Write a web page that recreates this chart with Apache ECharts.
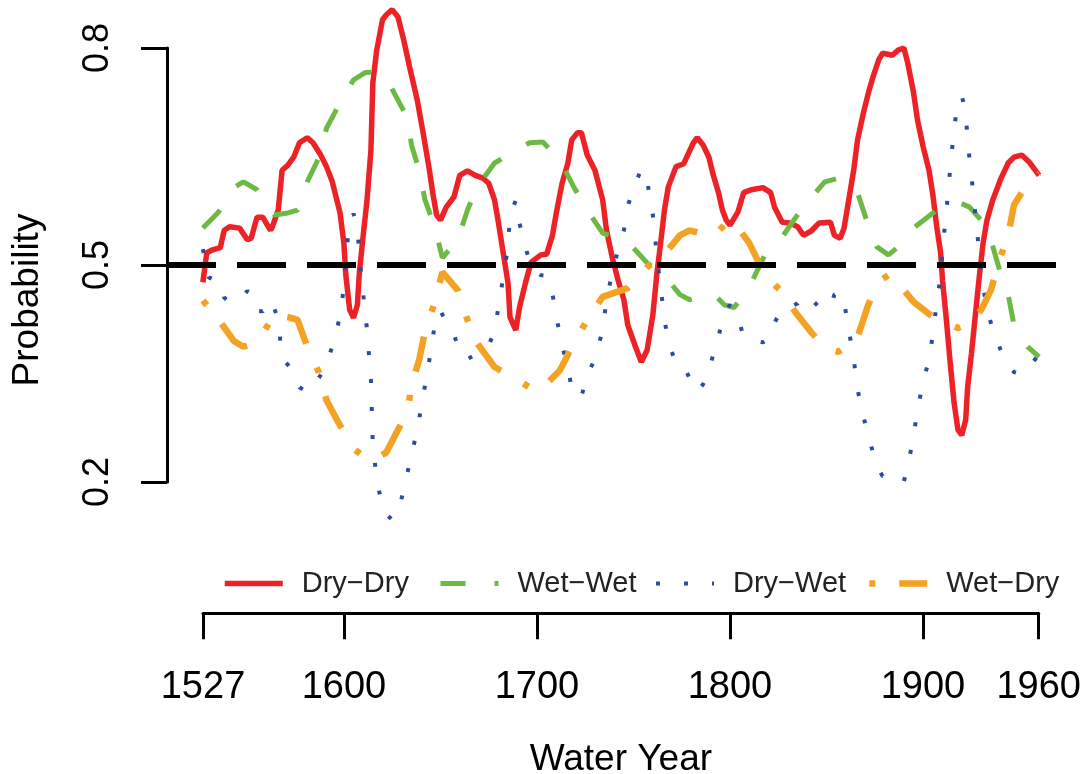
<!DOCTYPE html>
<html><head><meta charset="utf-8">
<script src="https://cdn.jsdelivr.net/npm/echarts@6.0.0/dist/echarts.min.js"></script>
<style>html,body{margin:0;padding:0;background:#fff}#c{width:1084px;height:774px}</style>
</head><body><div id="c"></div>
<script>
const seriesNames = ['Dry\u2212Dry', 'Wet\u2212Wet', 'Dry\u2212Wet', 'Wet\u2212Dry'];
const xTicks = [1527, 1600, 1700, 1800, 1900, 1960];
const yTicks = [0.2, 0.5, 0.8];
const refLevel = 0.5;

const dryDry = [[1527,0.476],[1529,0.517],[1532,0.521],[1536,0.524],[1538,0.548],[1541,0.553],[1546,0.551],[1550,0.535],[1552,0.537],[1555,0.566],
[1558,0.566],[1562,0.548],[1563,0.553],[1566,0.576],[1568,0.631],[1571,0.638],[1574,0.649],[1577,0.669],[1581,0.676],[1584,0.669],
[1588,0.652],[1591,0.636],[1594,0.615],[1598,0.572],[1600,0.530],[1601,0.486],[1603,0.438],[1605,0.427],[1607,0.445],[1608,0.489],
[1610,0.541],[1612,0.590],[1614,0.659],[1615,0.752],[1617,0.797],[1620,0.839],[1622,0.846],[1625,0.853],[1628,0.843],[1631,0.811],
[1634,0.774],[1638,0.728],[1641,0.683],[1644,0.636],[1646,0.600],[1648,0.569],[1650,0.562],[1653,0.580],[1657,0.594],[1660,0.624],
[1664,0.630],[1668,0.624],[1672,0.620],[1675,0.613],[1678,0.590],[1680,0.559],[1682,0.525],[1685,0.475],[1686,0.428],[1689,0.410],
[1691,0.442],[1694,0.475],[1697,0.504],[1702,0.514],[1705,0.515],[1708,0.541],[1710,0.572],[1713,0.613],[1716,0.641],[1718,0.673],
[1721,0.683],[1723,0.683],[1726,0.652],[1730,0.631],[1734,0.590],[1736,0.548],[1739,0.510],[1742,0.479],[1745,0.452],[1747,0.417],
[1751,0.387],[1754,0.366],[1757,0.382],[1760,0.431],[1762,0.486],[1764,0.530],[1766,0.576],[1768,0.608],[1772,0.636],[1776,0.640],
[1778,0.652],[1781,0.669],[1783,0.676],[1786,0.666],[1789,0.649],[1791,0.627],[1794,0.600],[1796,0.576],[1798,0.562],[1800,0.555],
[1804,0.573],[1807,0.600],[1811,0.604],[1817,0.607],[1821,0.600],[1823,0.580],[1827,0.559],[1831,0.558],[1835,0.553],[1838,0.541],
[1842,0.547],[1846,0.558],[1852,0.559],[1854,0.541],[1857,0.537],[1859,0.551],[1861,0.583],[1864,0.631],[1866,0.673],[1869,0.710],
[1872,0.742],[1874,0.760],[1877,0.784],[1879,0.793],[1884,0.790],[1887,0.797],[1890,0.800],[1892,0.779],[1895,0.738],[1897,0.701],
[1900,0.663],[1903,0.631],[1905,0.597],[1907,0.553],[1909,0.517],[1910,0.479],[1912,0.424],[1914,0.364],[1916,0.309],[1918,0.272],
[1920,0.265],[1922,0.286],[1923,0.331],[1925,0.378],[1927,0.431],[1929,0.483],[1931,0.530],[1933,0.562],[1936,0.590],[1940,0.618],
[1944,0.641],[1947,0.649],[1951,0.652],[1955,0.642],[1960,0.624]];

const wetWet = [[1527,0.551],[1535,0.573],[1543,0.607],[1548,0.615],[1555,0.604],[1564,0.569],[1571,0.572],[1576,0.576],[1581,0.615],[1587,0.648],
[1591,0.689],[1597,0.719],[1605,0.756],[1611,0.766],[1617,0.767],[1622,0.759],[1626,0.738],[1633,0.703],[1635,0.666],[1639,0.631],
[1642,0.590],[1647,0.553],[1651,0.510],[1659,0.535],[1664,0.576],[1669,0.608],[1678,0.641],[1690,0.659],[1696,0.669],[1703,0.670],
[1712,0.645],[1719,0.608],[1726,0.576],[1734,0.544],[1747,0.532],[1757,0.503],[1767,0.482],[1774,0.459],[1779,0.452],[1791,0.461],
[1797,0.445],[1802,0.441],[1810,0.470],[1818,0.514],[1826,0.535],[1834,0.566],[1842,0.593],[1849,0.615],[1856,0.620],[1866,0.600],
[1871,0.559],[1876,0.525],[1882,0.514],[1887,0.525],[1895,0.551],[1907,0.576],[1918,0.587],[1924,0.580],[1930,0.562],[1935,0.535],
[1940,0.489],[1944,0.459],[1947,0.417],[1954,0.387],[1960,0.373]];

const dryWet = [[1527,0.522],[1530,0.483],[1536,0.476],[1538,0.455],[1541,0.448],[1546,0.452],[1550,0.464],[1553,0.457],[1555,0.436],[1558,0.436],
[1562,0.452],[1564,0.440],[1566,0.424],[1568,0.371],[1571,0.362],[1574,0.352],[1577,0.331],[1581,0.324],[1584,0.331],[1588,0.348],
[1591,0.364],[1594,0.387],[1598,0.429],[1600,0.470],[1601,0.512],[1603,0.558],[1605,0.571],[1607,0.554],[1608,0.513],[1610,0.460],
[1612,0.410],[1614,0.341],[1615,0.250],[1617,0.205],[1620,0.163],[1622,0.155],[1625,0.148],[1628,0.158],[1631,0.189],[1634,0.226],
[1638,0.272],[1641,0.318],[1644,0.364],[1646,0.400],[1648,0.430],[1650,0.437],[1653,0.420],[1657,0.405],[1660,0.377],[1664,0.370],
[1668,0.376],[1672,0.381],[1675,0.388],[1678,0.410],[1680,0.441],[1682,0.475],[1685,0.525],[1686,0.570],[1689,0.589],[1691,0.557],
[1694,0.525],[1697,0.497],[1702,0.486],[1705,0.485],[1708,0.460],[1710,0.429],[1713,0.388],[1716,0.360],[1718,0.328],[1721,0.318],
[1723,0.318],[1726,0.348],[1730,0.370],[1734,0.410],[1736,0.452],[1739,0.490],[1742,0.521],[1745,0.548],[1747,0.582],[1751,0.612],
[1754,0.633],[1757,0.617],[1760,0.569],[1762,0.515],[1764,0.470],[1766,0.425],[1768,0.393],[1772,0.364],[1776,0.360],[1778,0.349],
[1781,0.332],[1783,0.325],[1786,0.335],[1789,0.352],[1791,0.374],[1794,0.401],[1796,0.424],[1798,0.438],[1800,0.445],[1804,0.428],
[1807,0.401],[1811,0.396],[1817,0.393],[1821,0.400],[1823,0.420],[1827,0.441],[1831,0.442],[1835,0.447],[1838,0.459],[1842,0.453],
[1846,0.442],[1852,0.441],[1854,0.459],[1857,0.463],[1859,0.449],[1861,0.418],[1864,0.370],[1866,0.328],[1869,0.291],[1872,0.259],
[1874,0.241],[1877,0.217],[1879,0.208],[1884,0.211],[1887,0.204],[1890,0.201],[1892,0.222],[1895,0.263],[1897,0.300],[1900,0.338],
[1903,0.370],[1905,0.404],[1907,0.448],[1909,0.484],[1910,0.522],[1912,0.575],[1914,0.634],[1916,0.689],[1918,0.726],[1920,0.733],
[1922,0.713],[1923,0.670],[1925,0.623],[1927,0.570],[1929,0.518],[1931,0.471],[1933,0.439],[1936,0.411],[1940,0.383],[1944,0.360],
[1947,0.352],[1951,0.349],[1955,0.359],[1960,0.377]];

const wetDry = [[1527,0.451],[1535,0.425],[1543,0.395],[1548,0.387],[1555,0.393],[1564,0.431],[1571,0.428],[1576,0.424],[1581,0.387],[1587,0.352],
[1591,0.313],[1597,0.283],[1605,0.246],[1611,0.234],[1617,0.233],[1622,0.241],[1626,0.262],[1633,0.297],[1635,0.334],[1639,0.369],
[1642,0.408],[1647,0.448],[1651,0.490],[1659,0.465],[1664,0.424],[1669,0.392],[1678,0.359],[1690,0.341],[1696,0.331],[1703,0.330],
[1712,0.355],[1719,0.392],[1726,0.424],[1734,0.456],[1747,0.468],[1757,0.497],[1767,0.518],[1774,0.541],[1779,0.548],[1791,0.539],
[1797,0.555],[1802,0.559],[1810,0.530],[1818,0.486],[1826,0.465],[1834,0.434],[1842,0.407],[1849,0.385],[1856,0.380],[1866,0.400],
[1871,0.441],[1876,0.475],[1882,0.486],[1887,0.475],[1895,0.449],[1907,0.424],[1918,0.413],[1924,0.420],[1930,0.438],[1935,0.465],
[1940,0.511],[1944,0.541],[1947,0.583],[1954,0.613],[1960,0.627]];

const FONT = '"Liberation Sans", Arial, Helvetica, sans-serif';
const colors = ['#EC2227', '#6CBA45', '#2C4C9E', '#F4A224'];
const lineWidths = [5.5, 5, 4, 6.5];
const dashes = ['solid', [25, 29], [4, 24], [6, 24, 36, 26]];
const legendLefts = [222, 438, 654, 866];

const chart = echarts.init(document.getElementById('c'), null, {renderer: 'canvas'});
const option = {
  animation: false,
  backgroundColor: '#ffffff',
  textStyle: {fontFamily: FONT},
  grid: [
    {left: 167, right: 9, top: 48, height: 434},
    {left: 203, right: 45, top: 613, height: 1}
  ],
  xAxis: [
    {gridIndex: 0, type: 'value', min: 1508.4, max: 1978.6, show: false},
    {gridIndex: 1, type: 'value', min: 1527, max: 1960, position: 'bottom',
     axisLine: {show: true, onZero: false, lineStyle: {color: '#000', width: 3}},
     axisTick: {show: true, customValues: xTicks, length: 26, lineStyle: {color: '#000', width: 3}},
     axisLabel: {show: true, customValues: xTicks, fontSize: 38, color: '#000', margin: 55, fontFamily: FONT,
                 formatter: v => String(Math.round(v))},
     splitLine: {show: false},
     name: 'Water Year', nameLocation: 'middle', nameGap: 128,
     nameTextStyle: {fontSize: 37, color: '#000', fontFamily: FONT}}
  ],
  yAxis: [
    {gridIndex: 0, type: 'value', min: 0.2, max: 0.8,
     axisLine: {show: true, onZero: false, lineStyle: {color: '#000', width: 3}},
     axisTick: {show: true, customValues: yTicks, length: 26, lineStyle: {color: '#000', width: 3}},
     axisLabel: {show: true, customValues: yTicks, rotate: 90, fontSize: 36, color: '#000', margin: 51,
                 fontFamily: FONT, formatter: v => Number(v).toFixed(1)},
     splitLine: {show: false}},
    {gridIndex: 1, type: 'value', show: false}
  ],
  legend: seriesNames.map((n, i) => ({
    top: 569, left: legendLefts[i], padding: 0, itemWidth: 58, itemHeight: 14,
    selectedMode: false, data: [n],
    itemStyle: {opacity: 0},
    lineStyle: {width: lineWidths[i]},
    textStyle: {fontSize: 29, color: '#222', fontFamily: FONT, padding: [0, 0, 0, 14]}
  })),
  graphic: [
    {type: 'text', x: 28, y: 300, rotation: Math.PI / 2,
     style: {text: 'Probability', font: '37px "Liberation Sans", Arial, sans-serif', fill: '#000',
             textAlign: 'center', textVerticalAlign: 'middle', align: 'center', verticalAlign: 'middle'}}
  ],
  series: [
    ...[dryDry, wetWet, dryWet, wetDry].map((d, i) => ({
      name: seriesNames[i], type: 'line', data: d, symbol: 'none', clip: false, z: i === 0 ? 2 : 3,
      itemStyle: {color: colors[i]},
      lineStyle: {color: colors[i], width: lineWidths[i], type: dashes[i]}
    })),
    {name: 'ref', type: 'line', data: [], symbol: 'none', z: 5,
     markLine: {silent: true, symbol: 'none', label: {show: false},
                lineStyle: {color: '#000', width: 6, type: [49, 21]},
                data: [{yAxis: refLevel}]}}
  ]
};
chart.setOption(option);
</script>
</body></html>
